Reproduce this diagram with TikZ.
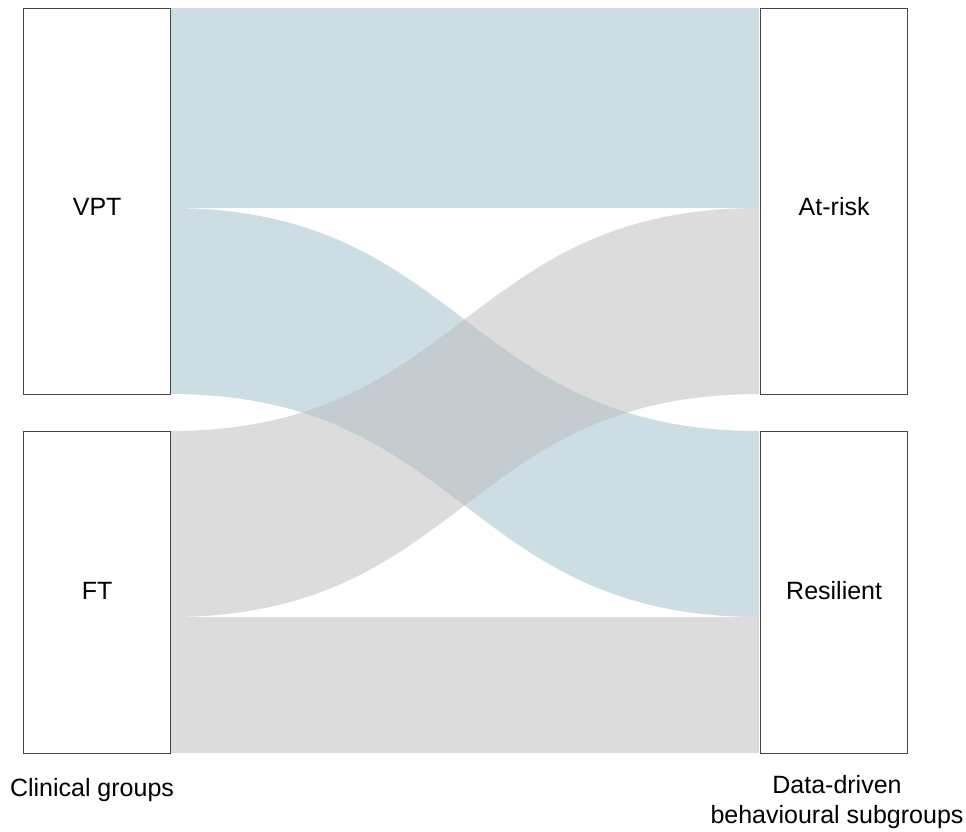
\documentclass[tikz,border=0pt]{standalone}
\usepackage{fontspec}
\setmainfont{Liberation Sans}
\definecolor{flowblue}{RGB}{204,222,228}
\definecolor{flowgray}{RGB}{189,189,189}
\definecolor{boxline}{RGB}{70,70,70}
\begin{document}
\begin{tikzpicture}[x=1pt,y=-1pt,
  groupbox/.style={draw=boxline, line width=1.3pt, fill=white, anchor=north west,
    minimum width=147pt, inner sep=0pt, font=\fontsize{25}{29}\selectfont},
  upperbox/.style={groupbox, minimum height=386pt, text height=28pt, text depth=0pt},
  lowerbox/.style={groupbox, minimum height=322pt, text height=14pt, text depth=0pt},
  bluefl/.style={fill=flowblue},
  grayfl/.style={fill=flowgray, fill opacity=0.53},
  caption/.style={font=\fontsize{25}{29.5}\selectfont, align=center, inner sep=0pt}]
\useasboundingbox (0,0) rectangle (966,832);
% flows
\fill[bluefl] (170,8) rectangle (759,208);
\fill[bluefl] (170,208) .. controls (464.5,208) and (464.5,431) .. (759,431)
   -- (759,617) .. controls (464.5,617) and (464.5,394) .. (170,394) -- cycle;
\fill[grayfl] (170,431) .. controls (464.5,431) and (464.5,208) .. (759,208)
   -- (759,394) .. controls (464.5,394) and (464.5,617) .. (170,617) -- cycle;
\fill[grayfl] (170,617) rectangle (759,753);
% boxes
\node[upperbox] (vpt) at (23,8) {VPT};
\node[lowerbox] (ft) at (23,431) {FT};
\node[upperbox] (atrisk) at (760,8) {At-risk};
\node[lowerbox] (resil) at (760,431) {Resilient};
% captions
\node[caption] (clin) at (92,790) {Clinical groups};
\node[caption] (data) at (837,802) {Data-driven\\behavioural subgroups};
\end{tikzpicture}
\end{document}
